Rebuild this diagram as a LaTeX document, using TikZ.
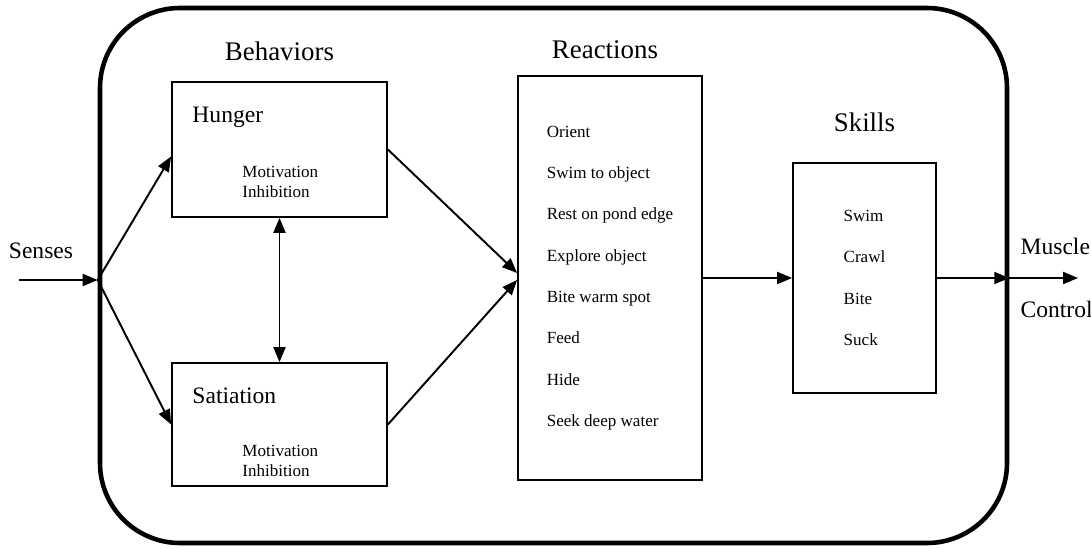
\documentclass[tikz,border=0pt]{standalone}
\usepackage{fontspec}
\setmainfont{Liberation Serif}
\usetikzlibrary{arrows.meta, positioning, calc}

\begin{document}
\begin{tikzpicture}[
        box/.style={draw, line width=1pt, inner sep=0pt},
        headtext/.style={font=\fontsize{15.3}{17}\selectfont, inner sep=0pt},
        bigtext/.style={font=\fontsize{13.4}{15}\selectfont, inner sep=0pt},
        smalltext/.style={font=\fontsize{9.7}{11.3}\selectfont, inner sep=0pt, align=left},
        listtext/.style={font=\fontsize{9.7}{23.5}\selectfont, align=left},
        link/.style={-{Triangle[length=0.3cm, width=0.24cm]}, line width=1.1pt},
        twolink/.style={{Triangle[length=0.3cm, width=0.24cm]}-{Triangle[length=0.3cm, width=0.24cm]}, line width=1.1pt}
    ]
        \useasboundingbox (0,0) rectangle (21.82,10.96);

        % Frame around the whole system
        \node[draw, line width=2.6pt, rounded corners=1.6cm, minimum width=18.14cm, minimum height=10.7cm] (frame) at (11.07,5.45) {};

        % Draw the boxes
        \node[box, minimum width=4.3cm, minimum height=2.7cm] (hunger) at (5.59,7.97) {};
        \node[box, minimum width=4.3cm, minimum height=2.46cm] (satiation) at (5.59,2.47) {};
        \node[box, listtext, minimum width=3.68cm, minimum height=8.08cm] (reactions) at (12.2,5.4)
            {Orient\\Swim to object\\Rest on pond edge\\Explore object\\Bite warm spot\\Feed\\Hide\\Seek deep water};
        \node[box, listtext, minimum width=2.86cm, minimum height=4.6cm] (skills) at (17.29,5.4)
            {Swim\\Crawl\\Bite\\Suck};

        % Label the columns
        \node[headtext, above=0.4cm of hunger] (behaviors) {Behaviors};
        \node[headtext, above=0.32cm of reactions, xshift=-0.1cm] (reactionstitle) {Reactions};
        \node[headtext, above=0.6cm of skills] (skillstitle) {Skills};

        % Text inside the behavior boxes
        \node[bigtext, anchor=west] (hungertitle) at ([shift={(0.42,-0.72)}]hunger.north west) {Hunger};
        \node[smalltext, anchor=west] (hungerdrive) at ([shift={(1.42,0.72)}]hunger.south west) {Motivation\\Inhibition};
        \node[bigtext, anchor=west] (satiationtitle) at ([shift={(0.42,-0.68)}]satiation.north west) {Satiation};
        \node[smalltext, anchor=west] (satiationdrive) at ([shift={(1.42,0.52)}]satiation.south west) {Motivation\\Inhibition};

        % Entry and exit points on the frame
        \coordinate (sensein) at (0.38,5.36);
        \coordinate (entry) at (frame.west |- sensein);
        \coordinate (exit) at (frame.east |- skills.east);
        \coordinate (muscleout) at (21.56,5.4);

        \node[bigtext, anchor=south] (senses) at (0.82,5.78) {Senses};
        \node[bigtext, anchor=south west, above right=0.46cm and 0.22cm of exit] (muscle) {Muscle};
        \node[bigtext, anchor=north west, below right=0.46cm and 0.22cm of exit] (control) {Control};

        % Draw the arrows
        \draw[link] (sensein) -- (entry);
        \draw[link] (entry) -- ([yshift=-0.14cm]hunger.west);
        \draw[link] (entry) -- (satiation.west);
        \draw[twolink] (hunger.south) -- (satiation.north);
        \draw[link] (hunger.east) -- ([yshift=0.1cm]reactions.west);
        \draw[link] (satiation.east) -- ([yshift=-0.04cm]reactions.west);
        \draw[link] (reactions.east) -- (skills.west);
        \draw[link] (skills.east) -- (exit);
        \draw[link] (exit) -- (muscleout);
    \end{tikzpicture}
\end{document}
